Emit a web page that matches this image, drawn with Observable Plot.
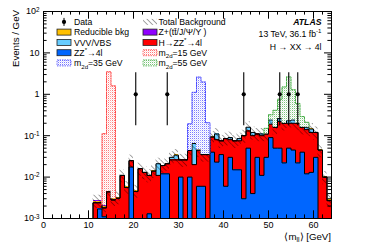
<!DOCTYPE html>
<html>
<head>
<meta charset="utf-8">
<script src="https://cdn.jsdelivr.net/npm/d3@7"></script>
<script src="https://cdn.jsdelivr.net/npm/@observablehq/plot@0.6"></script>
<style>
  html,body{margin:0;padding:0;background:#fff;}
  #chart{width:374px;height:250px;overflow:hidden;}
</style>
</head>
<body>
<div id="chart"></div>
<script>
// ---------------- data ----------------
const binLo = [11,12,13,14,15,16,17,18,19,20,
               21,22,23,24,25,26,27,28,29,30,
               31,32,33,34,35,36,37,38,39,40,
               41,42,43,44,45,46,47,48,49,50,
               51,52,53,54,55,56,57,58,59,60,
               61,62,63];
const binWidth = 1;
const zz = [0,0.0017,0.0011,0,0,0,0,0,0.0175,0,
            0,0,0.0013,0,0,0.012,0.012,0,0,0.010,
            0,0.010,0,0.006,0.006,0,0.040,0.023,0.035,0.006,
            0.030,0.015,0.015,0.003,0.050,0.004,0.030,0.011,0.030,0.090,
            0.050,0.050,0.022,0.050,0.045,0.022,0.040,0.012,0.013,0.030,
            0,0,0];
const higgs = [0.0024,0.0007,0.0007,0.0044,0.0028,0.0031,0.011,0.0056,0.0075,0.0045,
               0.016,0.013,0.0097,0.014,0.011,0.007,0.009,0.026,0.026,0.016,
               0.026,0.034,0.020,0.039,0.029,0.035,0.053,0.057,0.040,0.079,
               0.050,0.060,0.060,0.097,0.080,0.096,0.080,0.089,0.080,0.100,
               0.110,0.170,0.178,0.150,0.155,0.178,0.120,0.128,0.107,0.090,
               0.045,0.010,0.0027];
const vvv = [0,0,0,0,0,0,0,0,0,0,
             0,0,0,0,0.010,0,0,0.004,0.008,0,
             0,0,0.045,0,0,0,0,0.030,0,0,
             0.010,0,0.010,0,0.030,0.020,0,0.010,0,0.050,
             0,0.040,0,0.030,0.040,0,0,0.020,0.025,0,
             0,0,0];
const reducible = [0.0002,0.0002,0.0002,0.0002,0.0002,0.0002,0.0002,0.0002,0.0002,0.0002,
                   0.0002,0.0002,0.0002,0.0002,0.0002,0.0002,0.0002,0.0002,0.0002,0.0002,
                   0.0003,0.0003,0.0003,0.0003,0.0003,0.0003,0.0003,0.0003,0.0003,0.0003,
                   0.0003,0.0003,0.0003,0.0003,0.0003,0.0003,0.0003,0.0003,0.0003,0.0003,
                   0.0003,0.0003,0.0003,0.0003,0.0003,0.0003,0.0003,0.0003,0.0003,0.0003,
                   0.0002,0.0001,0.0001];
const zOnia = [0.0001,0.0001,0.0001,0,0,0,0,0,0,0,
               0,0,0,0,0,0,0,0,0,0,
               0,0,0,0,0,0,0,0,0,0,
               0,0,0,0,0,0,0,0,0,0,
               0,0,0,0,0,0,0,0,0,0,
               0,0,0];
const relUnc = 0.35;               // total background uncertainty (relative)

const sig15Bins = [13,14,15];
const sig15     = [0.11,3.5,1.6];
const sig35Bins = [32,33,34,35,36];
const sig35     = [0.15,1.05,2.55,1.95,0.17];
const sig55Bins = [49,50,51,52,53,54,55,56,57,58];
const sig55     = [0.04,0.08,0.25,0.5,1.3,2.4,1.05,0.4,0.13,0.05];

const dataX       = [20.5,27.5,44.5,52.5,54.5,56.5];
const dataY       = [1,1,1,1,1,1];
const dataErrDown = [0.827,0.827,0.827,0.827,0.827,0.827];
const dataErrUp   = [2.30,2.30,2.30,2.30,2.30,2.30];

const xTicks = [0,10,20,30,40,50,60];
const yTicks = [1e-3,1e-2,1e-1,1,10,100];
const yTickLabels = ["10^-3","10^-2","10^-1","1","10","10^2"];

// ---------------- styling ----------------
const C = {zz:"#0066ff", h:"#ff0000", vvv:"#66ccff", red:"#ffc000", zon:"#9000ff"};
const W = 374, H = 250, mL = 43, mR = 43, mT = 11, mB = 32;
const frameW = W - mL - mR, frameH = H - mT - mB;
const FLOOR = 1e-6;
const pos = v => Math.max(v, FLOOR);
const FONT = "'Liberation Sans', Arial, Helvetica, sans-serif";

// ---------------- build tables ----------------
const layers = [
  {vals: zz, fill: C.zz, outline: true},
  {vals: higgs, fill: C.h, outline: true},
  {vals: vvv, fill: C.vvv, outline: true},
  {vals: reducible, fill: C.red, outline: false},
  {vals: zOnia, fill: C.zon, outline: false}
];
function stepPoints(los, vals, base) {
  const n = los.length;
  const pts = [{x: los[0], y: base ? base[0] : FLOOR}];
  los.forEach((lo, i) => pts.push({x: lo, y: pos(vals[i])}));
  pts.push({x: los[n-1] + binWidth, y: pos(vals[n-1])});
  pts.push({x: los[n-1] + binWidth, y: base ? base[n-1] : FLOOR});
  return pts;
}
let cum = binLo.map(() => 0);
const stackMarks = [], outlineMarks = [];
for (const L of layers) {
  const rows = binLo.map((lo, i) => ({lo, hi: lo + binWidth, y1: pos(cum[i]), y2: pos(cum[i] + L.vals[i])}));
  cum = cum.map((c, i) => c + L.vals[i]);
  stackMarks.push(Plot.rect(rows, {x1: "lo", x2: "hi", y1: "y1", y2: "y2", fill: L.fill, clip: true, shapeRendering: "crispEdges"}));
  if (L.outline) outlineMarks.push(Plot.line(stepPoints(binLo, cum.slice()), {x: "x", y: "y", curve: "step-after", stroke: "black", strokeWidth: 1, clip: true}));
}
const tot = cum.slice();
const totAt = lo => tot[binLo.indexOf(lo)];
const bandRows = binLo.map((lo, i) => ({lo, hi: lo + binWidth, y1: tot[i] * (1 - relUnc), y2: tot[i] * (1 + relUnc)}));

function signalMarks(bins, vals, pat, color) {
  const rows = bins.map((lo, i) => ({lo, hi: lo + binWidth, y1: totAt(lo), y2: totAt(lo) + vals[i]}));
  const pts = stepPoints(bins, rows.map(r => r.y2), rows.map(r => r.y1));
  return [
    Plot.rect(rows, {x1: "lo", x2: "hi", y1: "y1", y2: "y2", fill: `url(#${pat})`, clip: true}),
    Plot.line(pts, {x: "x", y: "y", curve: "step-after", stroke: color, strokeWidth: 1, strokeDasharray: "1.5,1.2", clip: true})
  ];
}
const dataRows = dataX.map((x, i) => ({x, y: dataY[i], lo: dataY[i] - dataErrDown[i], hi: dataY[i] + dataErrUp[i]}));

const yMinor = yTicks.slice(0, -1).flatMap(d => [2,3,4,5,6,7,8,9].map(m => m * d));
const xMinor = d3.range(2, 64, 2).filter(v => v % 10 !== 0);
const majLen = 7, minLen = 3.6;

const svg = Plot.plot({
  width: W, height: H,
  marginLeft: mL, marginRight: mR, marginTop: mT, marginBottom: mB,
  style: {fontFamily: FONT, fontSize: "9px", background: "white", color: "black", overflow: "visible"},
  x: {domain: [0, 64], axis: null},
  y: {type: "log", domain: [1e-3, 1e2], axis: null},
  marks: [
    ...stackMarks,
    ...outlineMarks,
    Plot.rect(bandRows, {x1: "lo", x2: "hi", y1: "y1", y2: "y2", fill: "url(#hatchBkg)", clip: true}),
    ...signalMarks(sig15Bins, sig15, "dotRed", "#ff4a4a"),
    ...signalMarks(sig35Bins, sig35, "dotBlue", "#4a4aff"),
    ...signalMarks(sig55Bins, sig55, "dotGreen", "#45ad45"),
    Plot.ruleX(dataRows, {x: "x", y1: "lo", y2: "hi", stroke: "black", strokeWidth: 1.1}),
    Plot.dot(dataRows, {x: "x", y: "y", r: 2.1, fill: "black", stroke: "none"}),
    // inner ticks (ROOT style)
    Plot.tickY(yTicks, {y: d => d, insetRight: frameW - majLen, stroke: "black"}),
    Plot.tickY(yTicks, {y: d => d, insetLeft: frameW - majLen, stroke: "black"}),
    Plot.tickY(yMinor, {y: d => d, insetRight: frameW - minLen, stroke: "black"}),
    Plot.tickY(yMinor, {y: d => d, insetLeft: frameW - minLen, stroke: "black"}),
    Plot.tickX(xTicks, {x: d => d, insetTop: frameH - majLen - 0.7, stroke: "black"}),
    Plot.tickX(xTicks, {x: d => d, insetBottom: frameH - majLen - 0.7, stroke: "black"}),
    Plot.tickX(xMinor, {x: d => d, insetTop: frameH - minLen, stroke: "black"}),
    Plot.tickX(xMinor, {x: d => d, insetBottom: frameH - minLen, stroke: "black"}),
    Plot.axisY({ticks: yTicks, anchor: "left", tickSize: 0, tickPadding: 4, fontSize: 9,
                tickFormat: d => yTickLabels[yTicks.indexOf(d)]}),
    Plot.axisX({ticks: xTicks, anchor: "bottom", tickSize: 0, tickPadding: 3, fontSize: 9,
                tickFormat: d => String(d)}),
    Plot.frame({stroke: "black", strokeWidth: 1})
  ]
});
document.getElementById("chart").appendChild(svg);

// ---------------- patterns ----------------
const S = d3.select(svg);
S.insert("defs", ":first-child").html(`
  <pattern id="hatchBkg" patternUnits="userSpaceOnUse" width="3.6" height="3.6" patternTransform="rotate(-45)">
    <line x1="0" y1="0" x2="0" y2="3.6" stroke="#000" stroke-width="0.7"/>
  </pattern>
  <pattern id="dotRed" patternUnits="userSpaceOnUse" width="2" height="2">
    <rect width="2" height="2" fill="#fff"/>
    <rect x="0" y="0" width="1" height="1" fill="#ff7a7a"/>
    <rect x="1" y="1" width="1" height="1" fill="#ffdede"/>
  </pattern>
  <pattern id="dotBlue" patternUnits="userSpaceOnUse" width="2" height="2">
    <rect width="2" height="2" fill="#fff"/>
    <rect x="0" y="0" width="1" height="1" fill="#7a7aff"/>
    <rect x="1" y="1" width="1" height="1" fill="#dedeff"/>
  </pattern>
  <pattern id="dotGreen" patternUnits="userSpaceOnUse" width="2" height="2">
    <rect width="2" height="2" fill="#fff"/>
    <rect x="0" y="0" width="1" height="1" fill="#7cc47c"/>
    <rect x="1" y="1" width="1" height="1" fill="#dff0df"/>
  </pattern>`);

// ---------------- rich text helper ----------------
function rich(parent, x, y, str, opt = {}) {
  const size = opt.size || 8.7;
  const t = parent.append("text").attr("x", x).attr("y", y)
    .attr("font-size", size).attr("font-family", FONT).attr("fill", "black")
    .attr("text-anchor", opt.anchor || "start");
  if (opt.weight) t.attr("font-weight", opt.weight);
  if (opt.style) t.attr("font-style", opt.style);
  if (opt.transform) t.attr("transform", opt.transform);
  const re = /([_^])\{([^}]*)\}/g;
  let last = 0, m, cur = 0;
  const seg = (s, kind) => {
    if (!s) return;
    const target = kind === "_" ? size * 0.3 : kind === "^" ? -size * 0.42 : 0;
    const ts = t.append("tspan").text(s);
    if (target !== cur) { ts.attr("dy", (target - cur).toFixed(2)); cur = target; }
    if (kind) ts.attr("font-size", size * 0.7);
  };
  while ((m = re.exec(str))) { seg(str.slice(last, m.index), null); seg(m[2], m[1]); last = re.lastIndex; }
  seg(str.slice(last), null);
  return t;
}

// superscripts for log tick labels
S.selectAll("text").each(function() {
  const s = this.textContent;
  if (s.includes("^")) {
    const [b, e] = s.split("^");
    const sel = d3.select(this); sel.text("");
    sel.append("tspan").text(b);
    sel.append("tspan").attr("dy", "-0.42em").attr("font-size", "0.7em").text(e);
  }
});

// ---------------- legend ----------------
const G = S.append("g");
const rowsY = [21.9, 32.1, 42.4, 52.7, 62.9];
const c1Box = 57, c1Txt = 74, c2Box = 143, c2Txt = 158.5, bw = 14, bh = 6;
function box(x, yc, fill, stroke, dash) {
  G.append("rect").attr("x", x).attr("y", yc - bh / 2).attr("width", bw).attr("height", bh)
    .attr("fill", fill).attr("stroke", stroke || "none").attr("stroke-width", 0.8)
    .attr("stroke-dasharray", dash || null);
}
// Data marker
G.append("line").attr("x1", c1Box + 7).attr("x2", c1Box + 7).attr("y1", rowsY[0] - 4).attr("y2", rowsY[0] + 4).attr("stroke", "black").attr("stroke-width", 1);
G.append("circle").attr("cx", c1Box + 7).attr("cy", rowsY[0]).attr("r", 2.1).attr("fill", "black");
box(c1Box, rowsY[1], C.red, "#222");
box(c1Box, rowsY[2], C.vvv, "#222");
box(c1Box, rowsY[3], C.zz, "#222");
box(c1Box, rowsY[4], "url(#dotBlue)", "#4a4aff", "1.5,1");
box(c2Box, rowsY[0], "url(#hatchBkg)", null);
box(c2Box, rowsY[1], C.zon, "#222");
box(c2Box, rowsY[2], C.h, "#222");
box(c2Box, rowsY[3], "url(#dotRed)", "#ff4a4a", "1.5,1");
box(c2Box, rowsY[4], "url(#dotGreen)", "#45ad45", "1.5,1");
const col1 = ["Data", "Reducible bkg", "VVV/VBS", "ZZ^{*}\u21924l", "m_{2d}=35 GeV"];
const col2 = ["Total Background", "Z+(t\u0074\u0304/J/\u03A8/\u03A5 )", "H\u2192ZZ^{*}\u21924l", "m_{2d}=15 GeV", "m_{2d}=55 GeV"];
col1.forEach((s, i) => rich(G, c1Txt, rowsY[i] + 3.1, s));
col2.forEach((s, i) => rich(G, c2Txt, rowsY[i] + 3.1, s));

// ---------------- annotations ----------------
rich(G, 321.5, 25.4, "ATLAS", {weight: "bold", style: "italic", anchor: "end"});
rich(G, 321.5, 36.6, "13 TeV, 36.1 fb^{-1}", {anchor: "end"});
rich(G, 321.5, 49.8, "H \u2192 XX \u2192 4l", {anchor: "end"});
// axis titles
rich(G, 0, 0, "Events / GeV", {size: 9.7, anchor: "end", transform: "translate(19,10) rotate(-90)"});
rich(G, 331, 239.5, "\u27E8m_{ll}\u27E9 [GeV]", {size: 9.7, anchor: "end"});
</script>
</body>
</html>
